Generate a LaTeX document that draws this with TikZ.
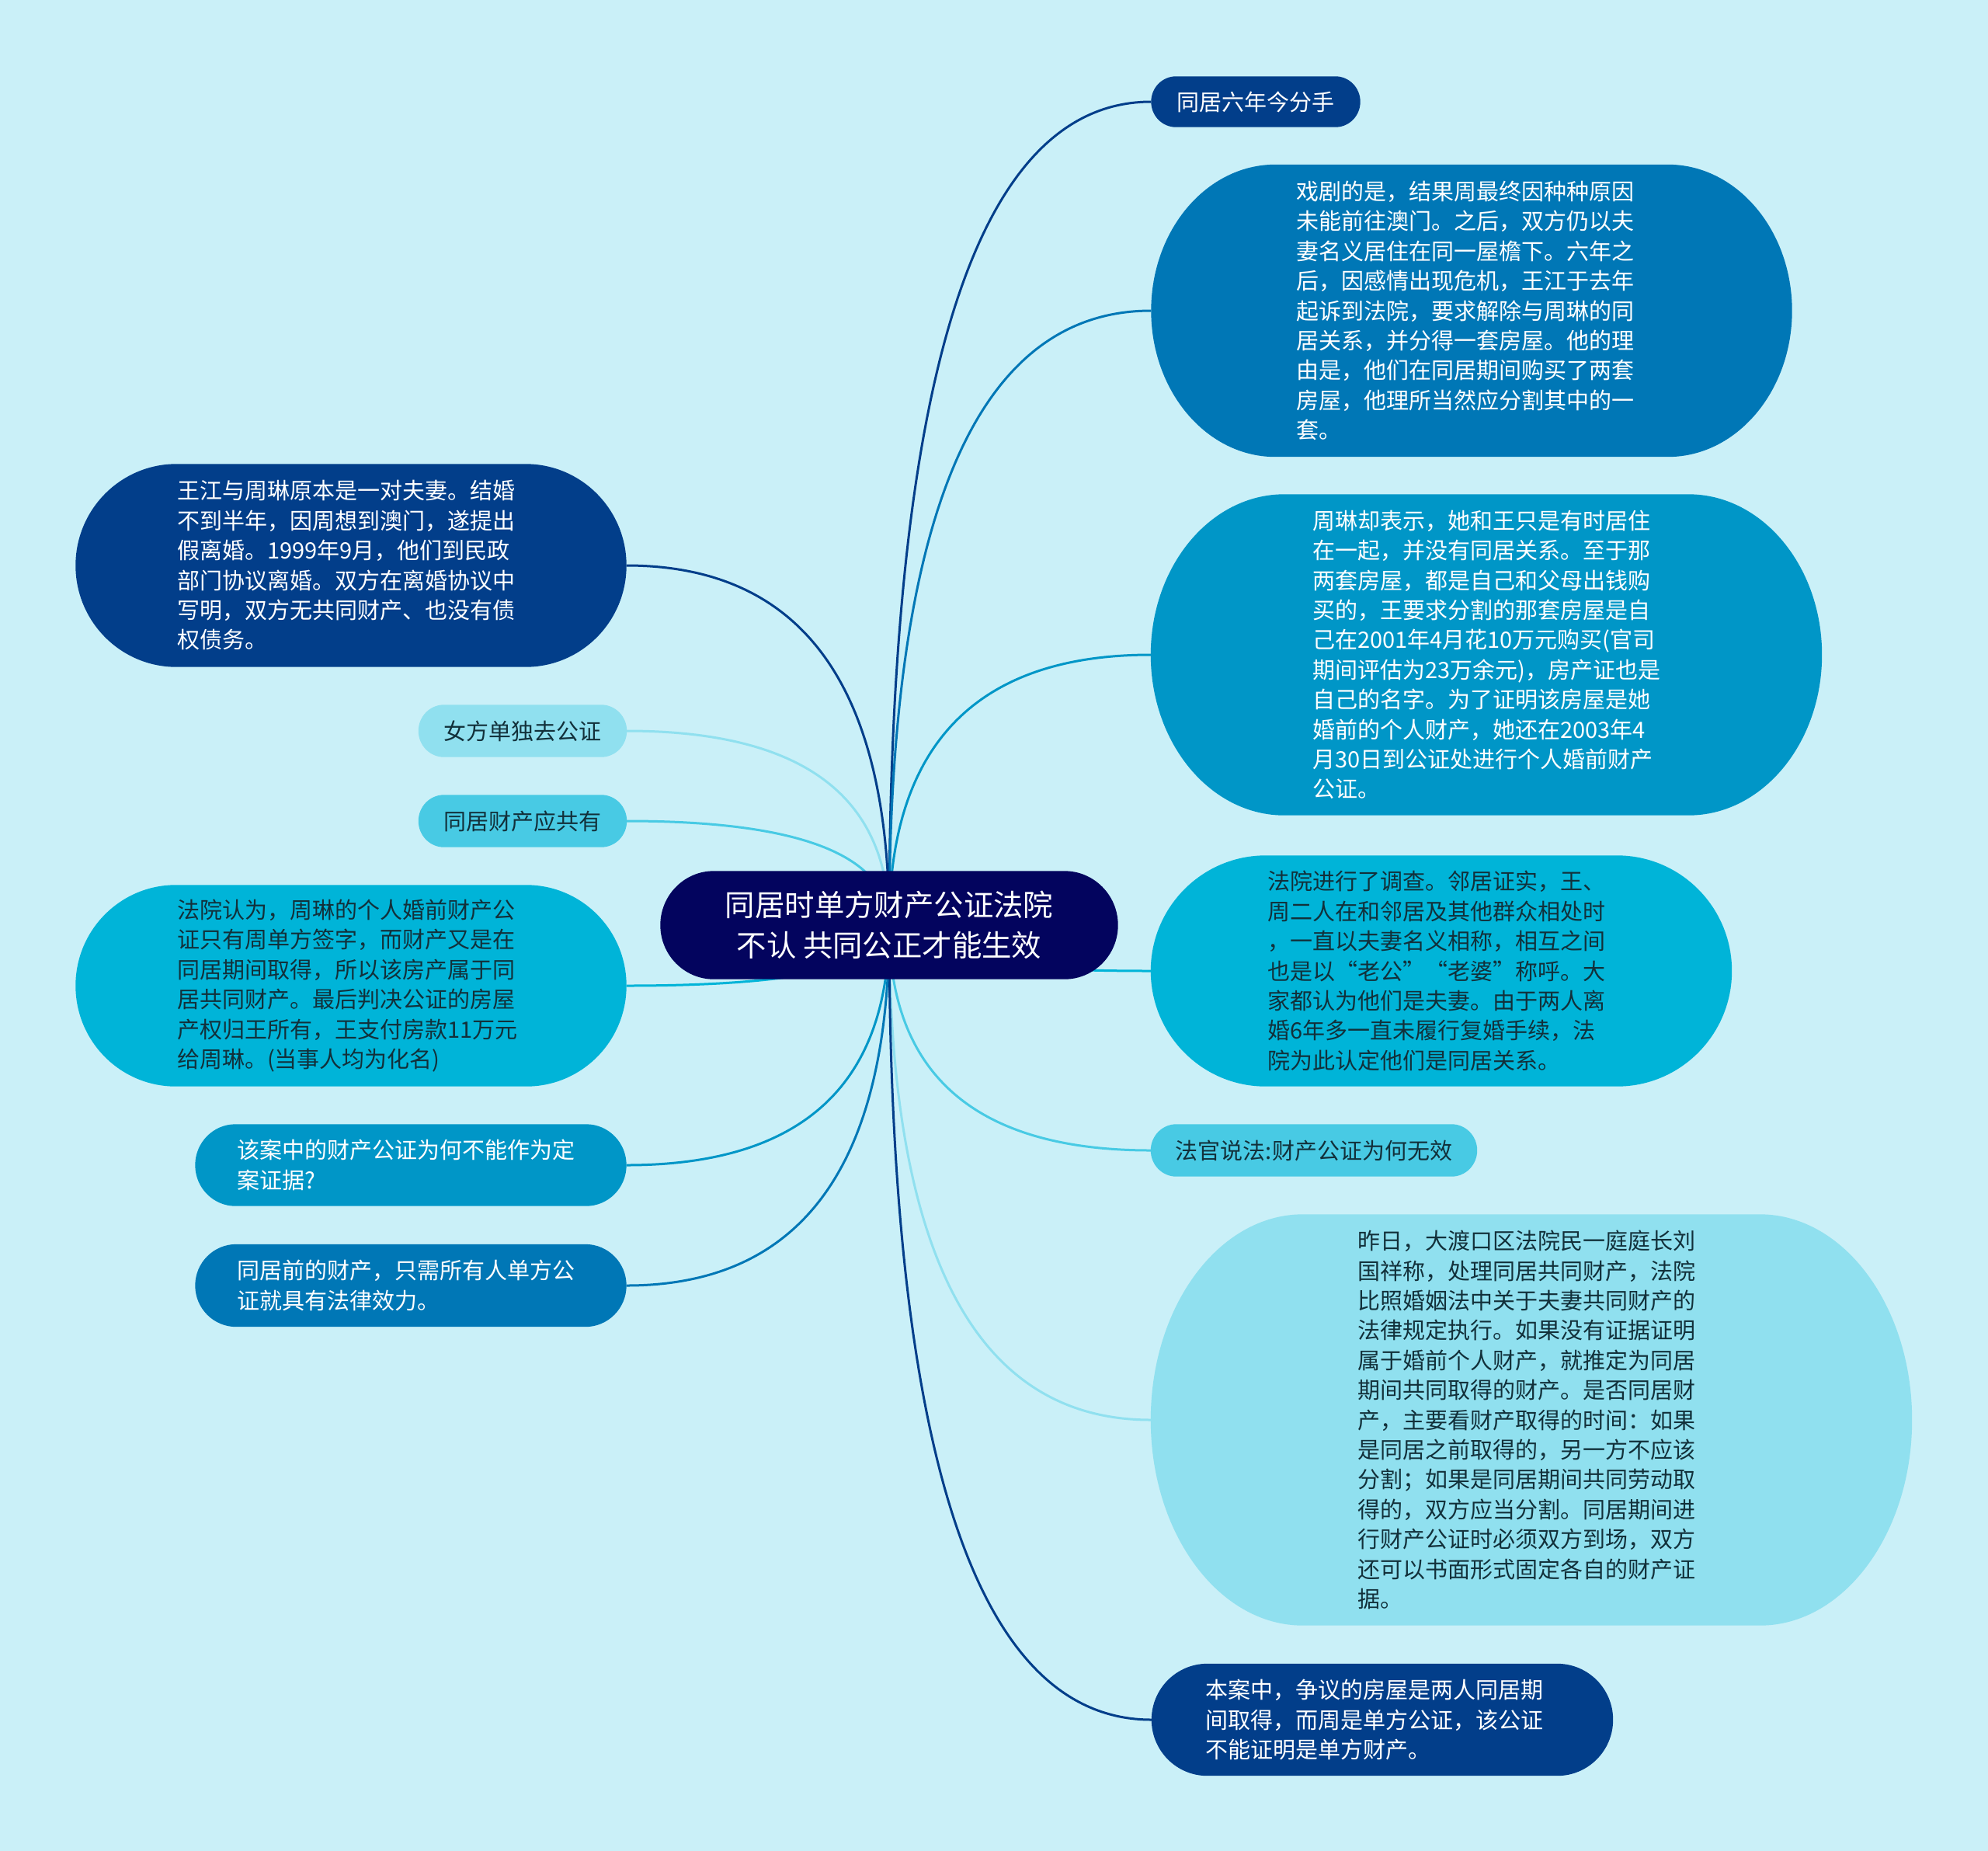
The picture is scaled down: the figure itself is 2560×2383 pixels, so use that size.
\documentclass[tikz,border=0pt]{standalone}
\usepackage{fontspec}
\setmainfont{Noto Sans CJK SC}
\usetikzlibrary{calc}
\pgfdeclarelayer{bgl}
\pgfdeclarelayer{edges}
\pgfdeclarelayer{blobs}
\pgfsetlayers{bgl,edges,blobs,main}
\definecolor{bg}{HTML}{CAF0F8}
\definecolor{c0}{HTML}{03045E}
\definecolor{c1}{HTML}{023E8A}
\definecolor{c2}{HTML}{0077B6}
\definecolor{c3}{HTML}{0096C7}
\definecolor{c4}{HTML}{00B4D8}
\definecolor{c5}{HTML}{48CAE4}
\definecolor{c6}{HTML}{90E0EF}
\definecolor{dk}{HTML}{12303A}
\newcommand\mblob[3]{%
  \begin{pgfonlayer}{blobs}
  \path[fill=#3] let \p1=(#1.north west), \p2=(#1.south east), \n1={(\y1-\y2)/2} in
    (\x1+#2,\y1) -- (\x2-#2,\y1)
    arc[start angle=90,end angle=-90,x radius=#2,y radius=\n1*1pt]
    -- (\x1+#2,\y2)
    arc[start angle=270,end angle=90,x radius=#2,y radius=\n1*1pt] -- cycle;
  \end{pgfonlayer}}
\newcommand\medge[3]{%
  \begin{pgfonlayer}{edges}
  \draw[link,#3] (#1.center) .. controls ($(#1.center)!0.667!(#1.center |- #2)$)
    and ($(#2)!0.667!(#1.center |- #2)$) .. (#2);
  \end{pgfonlayer}}
\begin{document}
\begin{tikzpicture}[x=1pt,y=-1pt,
  box/.style={rectangle,inner sep=0pt,align=left,font=\fontsize{29}{38.4}\selectfont},
  lt/.style={text=white}, dt/.style={text=dk},
  link/.style={line width=3pt}]
\begin{pgfonlayer}{bgl}
\fill[bg] (0,0) rectangle (2560,2383);
\end{pgfonlayer}
\useasboundingbox (0,0) rectangle (2560,2383);

% root
\node[box,lt,align=center,font=\fontsize{38.4}{52}\selectfont,minimum width=589pt,minimum height=139pt] (root) at (1145,1191)
  {同居时单方财产公证法院\\不认 共同公正才能生效};
\mblob{root}{69pt}{c0}

% right side
\node[box,lt,minimum width=269pt,minimum height=65pt] (n1) at (1617,131) {同居六年今分手};
\mblob{n1}{32pt}{c1}

\node[box,lt,text width=451pt,minimum width=825pt,minimum height=376pt] (n2) at (1895,400)
  {戏剧的是，结果周最终因种种原因\\未能前往澳门。之后，双方仍以夫\\妻名义居住在同一屋檐下。六年之\\后，因感情出现危机，王江于去年\\起诉到法院，要求解除与周琳的同\\居关系，并分得一套房屋。他的理\\由是，他们在同居期间购买了两套\\房屋，他理所当然应分割其中的一\\套。};
\mblob{n2}{160pt}{c2}

\node[box,lt,minimum width=864pt,minimum height=413pt] (n3) at (1914,843)
  {周琳却表示，她和王只是有时居住\\在一起，并没有同居关系。至于那\\两套房屋，都是自己和父母出钱购\\买的，王要求分割的那套房屋是自\\己在2001年4月花10万元购买(官司\\期间评估为23万余元)，房产证也是\\自己的名字。为了证明该房屋是她\\婚前的个人财产，她还在2003年4\\月30日到公证处进行个人婚前财产\\公证。};
\mblob{n3}{172pt}{c3}

\node[box,dt,text width=448pt,minimum width=748pt,minimum height=297pt] (n4) at (1856,1250)
  {法院进行了调查。邻居证实，王、\\周二人在和邻居及其他群众相处时\\，一直以夫妻名义相称，相互之间\\也是以“老公”“老婆”称呼。大\\家都认为他们是夫妻。由于两人离\\婚6年多一直未履行复婚手续，法\\院为此认定他们是同居关系。};
\mblob{n4}{148pt}{c4}

\node[box,dt,minimum width=420pt,minimum height=67pt] (n5) at (1692,1481) {法官说法:财产公证为何无效};
\mblob{n5}{33pt}{c5}

\node[box,dt,text width=448pt,minimum width=980pt,minimum height=529pt] (n6) at (1972,1828)
  {昨日，大渡口区法院民一庭庭长刘\\国祥称，处理同居共同财产，法院\\比照婚姻法中关于夫妻共同财产的\\法律规定执行。如果没有证据证明\\属于婚前个人财产，就推定为同居\\期间共同取得的财产。是否同居财\\产，主要看财产取得的时间：如果\\是同居之前取得的，另一方不应该\\分割；如果是同居期间共同劳动取\\得的，双方应当分割。同居期间进\\行财产公证时必须双方到场，双方\\还可以书面形式固定各自的财产证\\据。};
\mblob{n6}{196pt}{c6}

\node[box,lt,text width=455pt,minimum width=594pt,minimum height=144pt] (n7) at (1780,2214)
  {本案中，争议的房屋是两人同居期\\间取得，而周是单方公证，该公证\\不能证明是单方财产。};
\mblob{n7}{72pt}{c1}

% left side
\node[box,lt,text width=448pt,minimum width=709pt,minimum height=261pt] (a) at (452,728)
  {王江与周琳原本是一对夫妻。结婚\\不到半年，因周想到澳门，遂提出\\假离婚。1999年9月，他们到民政\\部门协议离婚。双方在离婚协议中\\写明，双方无共同财产、也没有债\\权债务。};
\mblob{a}{130pt}{c1}

\node[box,dt,minimum width=268pt,minimum height=67pt] (b) at (673,941) {女方单独去公证};
\mblob{b}{33pt}{c6}

\node[box,dt,minimum width=268pt,minimum height=67pt] (c) at (673,1057) {同居财产应共有};
\mblob{c}{33pt}{c5}

\node[box,dt,text width=448pt,minimum width=709pt,minimum height=259pt] (d) at (452,1269)
  {法院认为，周琳的个人婚前财产公\\证只有周单方签字，而财产又是在\\同居期间取得，所以该房产属于同\\居共同财产。最后判决公证的房屋\\产权归王所有，王支付房款11万元\\给周琳。(当事人均为化名)};
\mblob{d}{129pt}{c4}

\node[box,lt,text width=448pt,minimum width=555pt,minimum height=105pt] (e) at (529,1500)
  {该案中的财产公证为何不能作为定\\案证据?};
\mblob{e}{52pt}{c3}

\node[box,lt,text width=448pt,minimum width=555pt,minimum height=106pt] (f) at (529,1655)
  {同居前的财产，只需所有人单方公\\证就具有法律效力。};
\mblob{f}{53pt}{c2}

% connectors
\medge{root}{n1.west}{c1}
\medge{root}{n2.west}{c2}
\medge{root}{n3.west}{c3}
\medge{root}{n4.west}{c4}
\medge{root}{n5.west}{c5}
\medge{root}{n6.west}{c6}
\medge{root}{n7.west}{c1}
\medge{root}{a.east}{c1}
\medge{root}{b.east}{c6}
\medge{root}{c.east}{c5}
\medge{root}{d.east}{c4}
\medge{root}{e.east}{c3}
\medge{root}{f.east}{c2}
\end{tikzpicture}
\end{document}
